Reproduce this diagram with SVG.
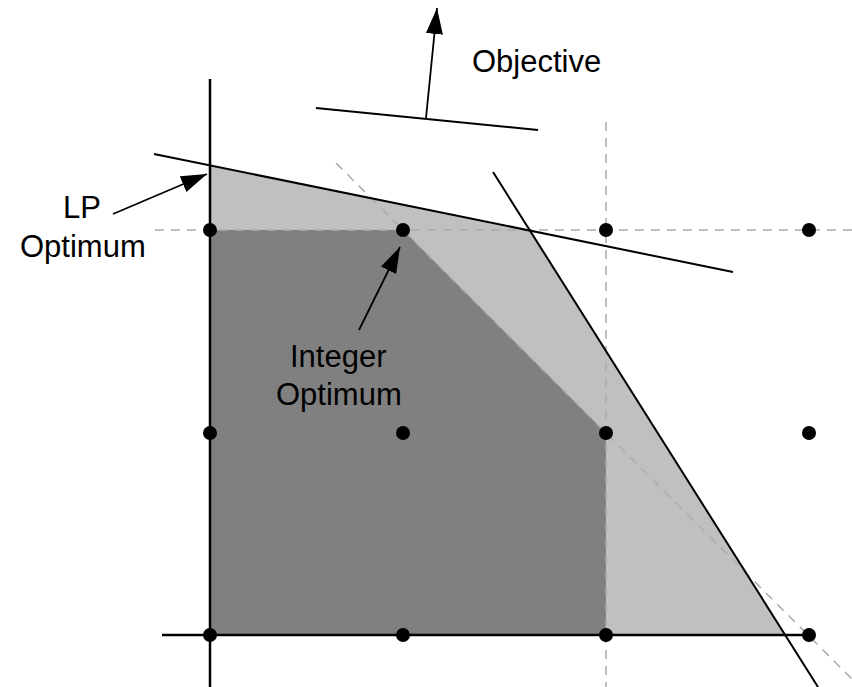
<svg xmlns="http://www.w3.org/2000/svg" width="852" height="687" viewBox="0 0 852 687">
<style>
.line{stroke:#000;stroke-width:2;fill:none}
.axis{stroke:#000;stroke-width:2.5;fill:none}
.dash{stroke:#ababab;stroke-width:1.5;stroke-dasharray:9 7;fill:none}
.dot{fill:#000}
.lbl{font-family:"Liberation Sans",Arial,sans-serif;font-size:31px;fill:#000}
.arr{stroke:#000;stroke-width:1.8;fill:none;marker-end:url(#ah)}
</style>
<defs>
<marker id="ah" markerUnits="userSpaceOnUse" markerWidth="27" markerHeight="17" refX="26" refY="8.5" orient="auto">
<path d="M0,0 L26,8.5 L0,17 z" fill="#000"/>
</marker>
</defs>
<rect width="852" height="687" fill="#fff"/>
<g id="regions">
<polygon id="lp-region" points="210,166 530,230 786,635 210,635" fill="#c0c0c0"/>
<polygon id="int-hull" points="210,230 403,230 606,433 606,635 210,635" fill="#808080"/>
</g>
<g id="grid">
<line class="dash" x1="155" y1="230" x2="852" y2="230"/>
<line class="dash" x1="606" y1="122" x2="606" y2="687"/>
<line class="dash" x1="336" y1="163" x2="852" y2="679"/>
</g>
<g id="connectors">
<line class="axis" x1="210" y1="79" x2="210" y2="687"/>
<line class="axis" x1="162" y1="635" x2="815" y2="635"/>
<line class="line" x1="154" y1="154" x2="733" y2="272"/>
<line class="line" x1="493" y1="172" x2="818" y2="687"/>
<line class="line" x1="316" y1="108" x2="538" y2="130"/>
<line class="arr" x1="426" y1="118" x2="437" y2="8"/>
<line class="arr" x1="113" y1="214" x2="207" y2="174"/>
<line class="arr" x1="359" y1="330" x2="400" y2="247"/>
</g>
<g id="points">
<circle class="dot" cx="210" cy="230" r="7"/>
<circle class="dot" cx="403" cy="230" r="7"/>
<circle class="dot" cx="606" cy="230" r="7"/>
<circle class="dot" cx="809" cy="230" r="7"/>
<circle class="dot" cx="210" cy="433" r="7"/>
<circle class="dot" cx="403" cy="433" r="7"/>
<circle class="dot" cx="606" cy="433" r="7"/>
<circle class="dot" cx="809" cy="433" r="7"/>
<circle class="dot" cx="210" cy="635" r="7"/>
<circle class="dot" cx="403" cy="635" r="7"/>
<circle class="dot" cx="606" cy="635" r="7"/>
<circle class="dot" cx="809" cy="635" r="7"/>
</g>
<g id="label-objective"><text class="lbl" x="472" y="72">Objective</text></g>
<g id="label-lp"><text class="lbl" x="63" y="218">LP</text><text class="lbl" x="20" y="257">Optimum</text></g>
<g id="label-int"><text class="lbl" x="290" y="367">Integer</text><text class="lbl" x="276" y="405">Optimum</text></g>
</svg>
